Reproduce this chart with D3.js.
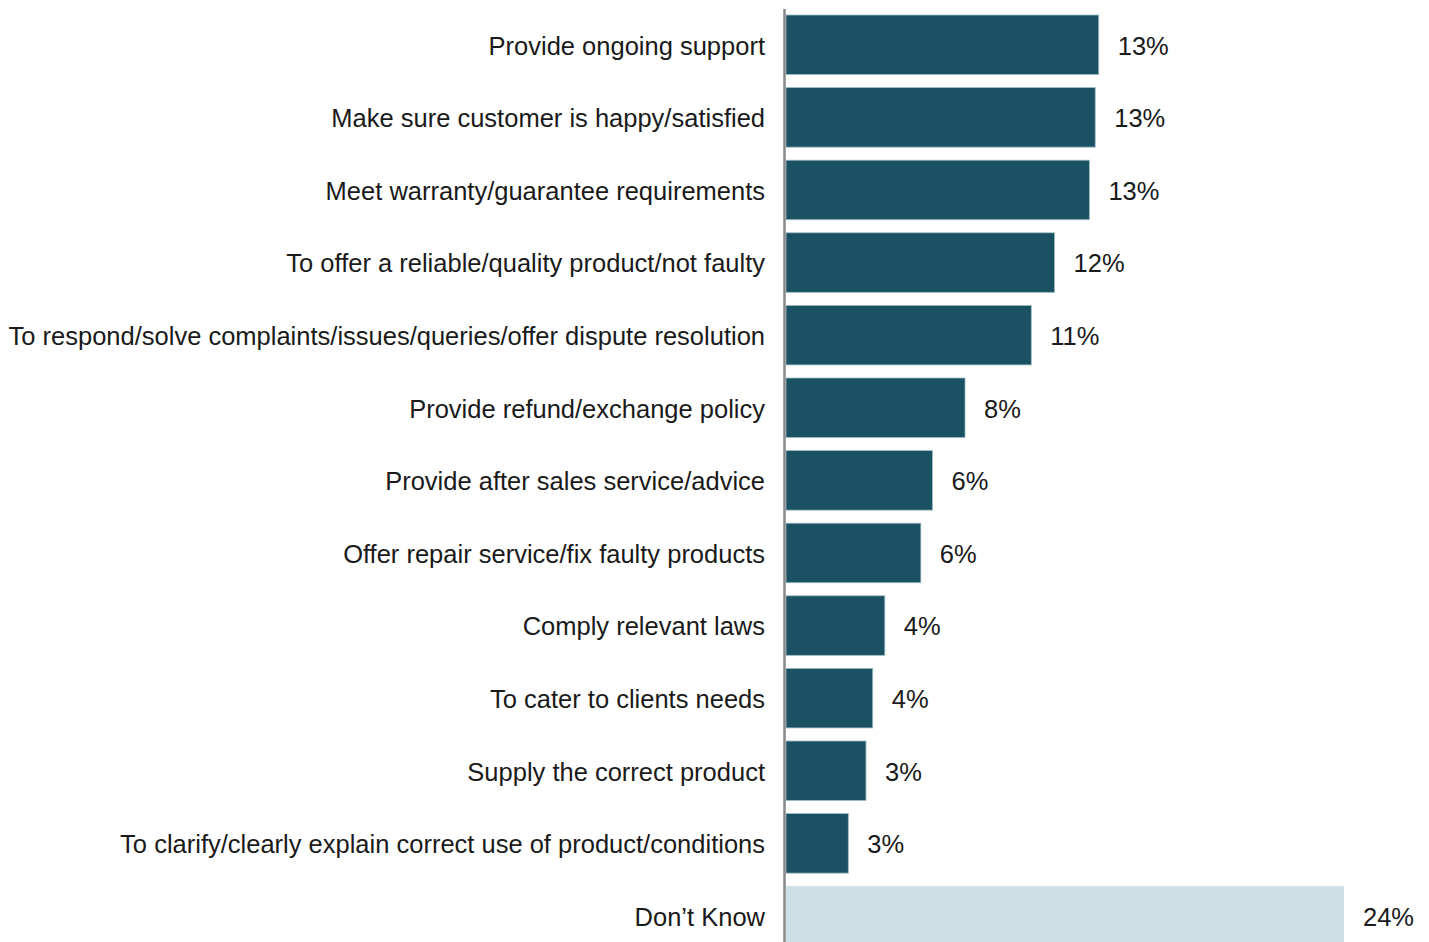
<!DOCTYPE html>
<html>
<head>
<meta charset="utf-8">
<script src="https://cdn.jsdelivr.net/npm/d3@7"></script>
<style>
  body { margin: 0; background: #fff; }
  #reasons_chart { width: 1429px; height: 942px; overflow: hidden; }
</style>
</head>
<body>
<div id="reasons_chart"></div>
<script>
const categories = [
  'Provide ongoing support',
  'Make sure customer is happy/satisfied',
  'Meet warranty/guarantee requirements',
  'To offer a reliable/quality product/not faulty',
  'To respond/solve complaints/issues/queries/offer dispute resolution',
  'Provide refund/exchange policy',
  'Provide after sales service/advice',
  'Offer repair service/fix faulty products',
  'Comply relevant laws',
  'To cater to clients needs',
  'Supply the correct product',
  'To clarify/clearly explain correct use of product/conditions',
  'Don\u2019t Know'
];
const values = [13.45, 13.3, 13.05, 11.55, 10.55, 7.7, 6.3, 5.8, 4.25, 3.73, 3.44, 2.68, 24.0];
const highlight = [false, false, false, false, false, false, false, false, false, false, false, false, true];

const rows = categories.map((c, i) => ({ cat: c, value: values[i], dk: highlight[i] }));

const margin = { top: 15, left: 786 },
      width = 1429,
      height = 942,
      step = 72.6;

const svg = d3.select('#reasons_chart')
  .append('svg')
  .attr('width', width)
  .attr('height', height)
  .style('font-family', 'Liberation Sans, Arial, sans-serif');

// y - one band per category, last band runs off the bottom edge
const y = d3.scaleBand()
  .domain(categories)
  .range([margin.top, margin.top + step * (categories.length - 0.18)])
  .paddingInner(0.18)
  .paddingOuter(0);

const x = d3.scaleLinear()
  .domain([0, 24])
  .range([margin.left, 1344]);

svg.selectAll('.bar')
  .data(rows)
  .enter()
  .append('rect')
  .attr('class', 'bar')
  .attr('x', x(0))
  .attr('y', d => y(d.cat))
  .attr('width', d => x(d.value) - x(0))
  .attr('height', y.bandwidth())
  .attr('fill', d => d.dk ? '#cddee5' : '#1a5263')
  .attr('stroke', d => d.dk ? 'none' : '#9dbcc6')
  .attr('stroke-width', 0.8);

svg.selectAll('.catLabel')
  .data(rows)
  .enter()
  .append('text')
  .attr('class', 'catLabel')
  .attr('x', 765)
  .attr('y', d => y(d.cat) + y.bandwidth() / 2 + 1)
  .attr('dy', '0.35em')
  .attr('text-anchor', 'end')
  .attr('fill', '#1a1a1a')
  .style('font-size', '25.5px')
  .text(d => d.cat);

svg.selectAll('.valLabel')
  .data(rows)
  .enter()
  .append('text')
  .attr('class', 'valLabel')
  .attr('x', d => x(d.value) + 19)
  .attr('y', d => y(d.cat) + y.bandwidth() / 2 + 1)
  .attr('dy', '0.35em')
  .attr('fill', '#1a1a1a')
  .style('font-size', '25.5px')
  .text(d => d3.format('.0f')(d.value) + '%');

// vertical axis line
svg.append('line')
  .attr('x1', 784.5)
  .attr('x2', 784.5)
  .attr('y1', 9)
  .attr('y2', height)
  .attr('stroke', '#888')
  .attr('stroke-width', 2.5);
</script>
</body>
</html>
